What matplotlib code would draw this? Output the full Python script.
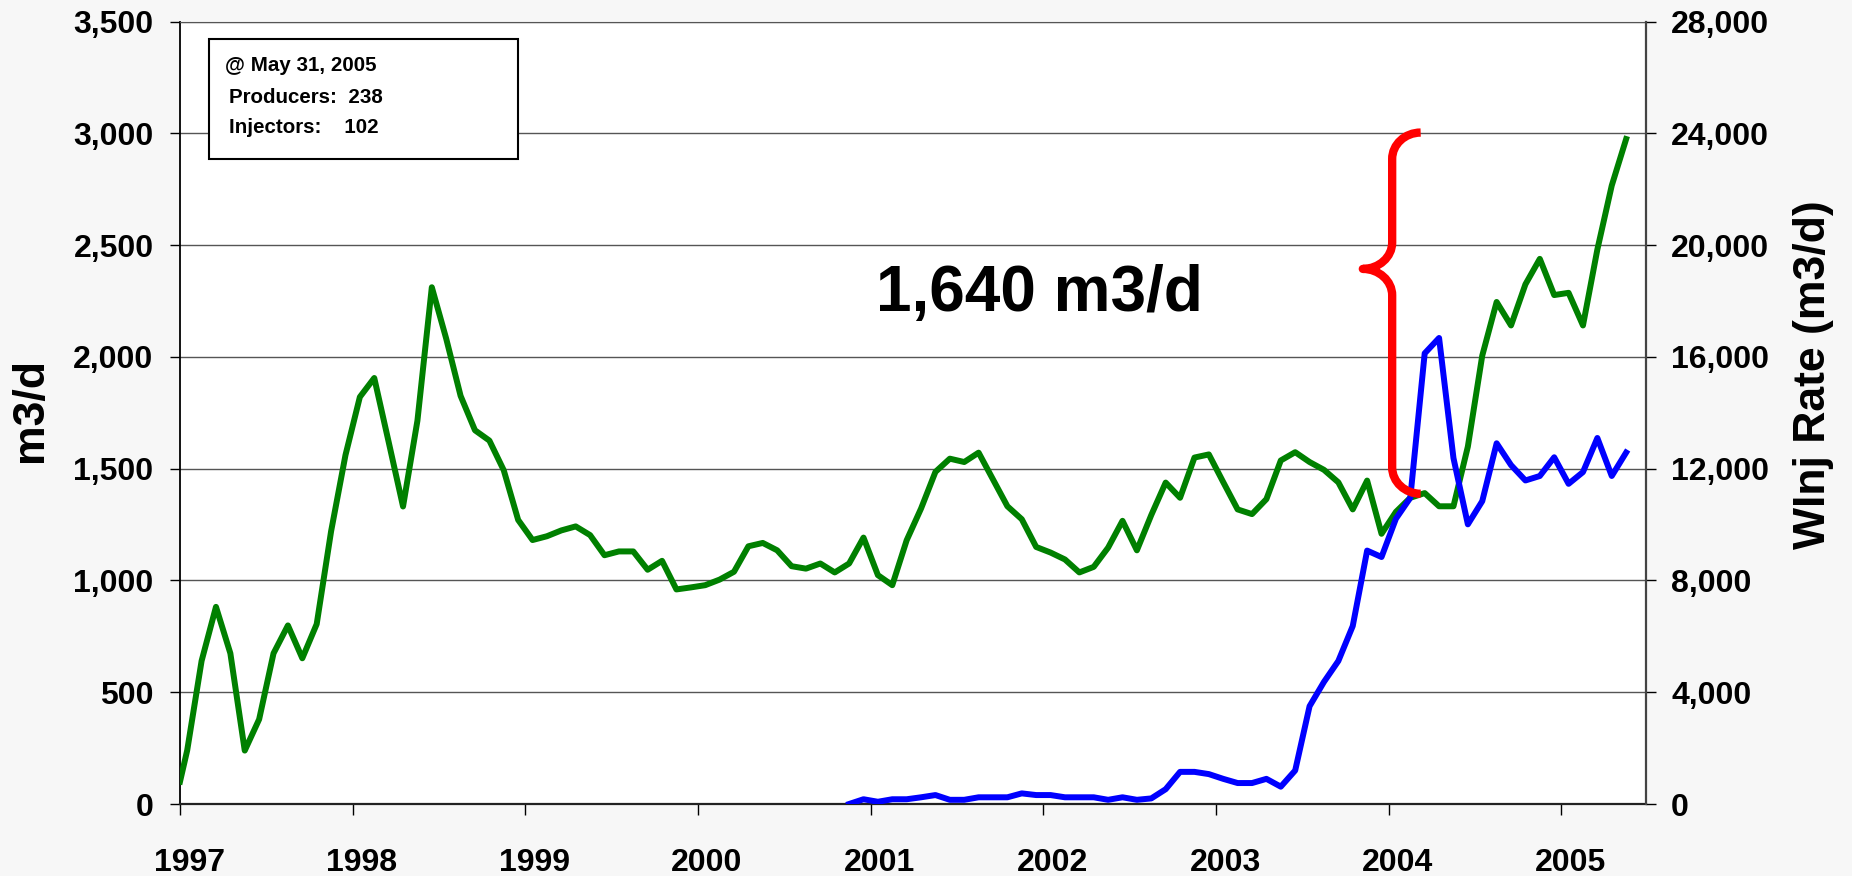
import numpy as np
import matplotlib
matplotlib.use("Agg")
import matplotlib.pyplot as plt
from matplotlib.path import Path
from matplotlib.patches import PathPatch, Rectangle
from matplotlib.ticker import FuncFormatter, FixedLocator
import matplotlib.transforms as mtransforms

plt.rcParams['font.family'] = ['Liberation Sans', 'DejaVu Sans']
plt.rcParams['font.weight'] = 'bold'

# ---------------- data ----------------
start_year = 1997
# oil rate (m3/d, left axis): first value sits at 1 Jan 1997, then monthly (mid-month) Jan 1997 .. May 2005
oil_first = 100
oil_rate = [240, 640, 882, 674, 239, 379, 674, 799, 652, 805, 1220, 1561,
            1821, 1906, 1620, 1331, 1715, 2312, 2082, 1826, 1672, 1626, 1493, 1271,
            1181, 1198, 1224, 1242, 1203, 1113, 1130, 1130, 1048, 1088, 960, 969,
            979, 1004, 1039, 1153, 1168, 1135, 1064, 1053, 1076, 1036, 1076, 1192,
            1024, 979, 1180, 1322, 1486, 1545, 1530, 1572, 1452, 1332, 1274, 1150,
            1125, 1094, 1036, 1061, 1147, 1267, 1135, 1293, 1438, 1370, 1550, 1564,
            1440, 1318, 1297, 1364, 1537, 1574, 1530, 1495, 1439, 1318, 1447, 1209,
            1307, 1370, 1391, 1332, 1332, 1599, 2006, 2246, 2141, 2325, 2439, 2277,
            2287, 2141, 2481, 2767, 2975]
# water injection rate (m3/d, right axis): monthly from Nov 2000 (month index 46) .. May 2005
winj_start_month = 46
winj_rate = [0, 170, 80, 170, 170, 240, 320, 150, 150, 240, 240, 240,
             380, 320, 320, 240, 240, 240, 150, 240, 150, 200, 530, 1150,
             1150, 1070, 900, 750, 750, 900, 620, 1200, 3500, 4370, 5120, 6370,
             9070, 8840, 10210, 10960, 16130, 16680, 12380, 10010, 10840, 12910, 12130, 11580,
             11740, 12410, 11460, 11880, 13100, 11740, 12580]

year_ticks = [1997, 1998, 1999, 2000, 2001, 2002, 2003, 2004, 2005]
left_ticks = [0, 500, 1000, 1500, 2000, 2500, 3000, 3500]
right_ticks = [0, 4000, 8000, 12000, 16000, 20000, 24000, 28000]

box_lines = ["@ May 31, 2005", "Producers:  238", "Injectors:    102"]
gap_label = "1,640 m3/d"
# brace spans from the oil rate around Mar 2004 up to the latest oil rate
brace_low, brace_tip, brace_high = 1388, 2394, 3004

# ---------------- positions ----------------
oil_x = np.concatenate([[start_year], start_year + (np.arange(len(oil_rate)) + 0.5) / 12.0])
oil_y = np.concatenate([[oil_first], oil_rate])
winj_x = start_year + (winj_start_month + np.arange(len(winj_rate)) + 0.5) / 12.0

W, H = 1852, 876
fig = plt.figure(figsize=(W / 100, H / 100), dpi=100, facecolor='#f7f7f7')
ax = fig.add_axes([180 / W, 72 / H, 1466 / W, 782.3 / H])
ax.set_facecolor('white')
ax2 = ax.twinx()
ax2.patch.set_visible(False)

ax.set_xlim(1997, 2005.49)
ax.set_ylim(0, 3500)
ax2.set_ylim(0, 28000)

ax.yaxis.set_major_locator(FixedLocator(left_ticks))
ax2.yaxis.set_major_locator(FixedLocator(right_ticks))
ax.xaxis.set_major_locator(FixedLocator(year_ticks))
ax.set_xticklabels([str(y) for y in year_ticks])
fmt = FuncFormatter(lambda v, p: f"{v:,.0f}")
ax.yaxis.set_major_formatter(fmt)
ax2.yaxis.set_major_formatter(fmt)

ax.grid(axis='y', color='#555555', lw=1.0, zorder=0)
ax.set_axisbelow(True)

ax.plot(oil_x, oil_y, color='#008000', lw=4.3, solid_joinstyle='round', zorder=3)
ax2.plot(winj_x, winj_rate, color='#0000ff', lw=4.3, solid_joinstyle='round', zorder=3)

# spines
for s in ['top']:
    ax.spines[s].set_color('#555555'); ax2.spines[s].set_visible(False)
ax.spines['left'].set_color('black'); ax.spines['left'].set_linewidth(1.3)
ax.spines['bottom'].set_color('#222222'); ax.spines['bottom'].set_linewidth(1.6)
ax2.spines['right'].set_color('#444444'); ax2.spines['right'].set_linewidth(1.6)
ax2.spines['left'].set_visible(False); ax2.spines['bottom'].set_visible(False)
ax.spines['right'].set_visible(False)

ax.tick_params(axis='y', direction='out', length=7, width=1, pad=12, labelsize=23, colors='black')
ax2.tick_params(axis='y', direction='out', length=7, width=1, pad=11, labelsize=23, colors='black')
ax.tick_params(axis='x', direction='out', length=8, width=1, pad=24, labelsize=23, colors='black')
for lab in ax.get_xticklabels():
    lab.set_transform(lab.get_transform() + mtransforms.ScaledTranslation(9 / 100, 0, fig.dpi_scale_trans))
for lab in ax.get_xticklabels() + ax.get_yticklabels() + ax2.get_yticklabels():
    lab.set_fontweight('bold')

# axis titles
fig.text(30 / W, 1 - 410 / H, 'm3/d', rotation=90, ha='center', va='center', fontsize=32, fontweight='bold')
fig.text(1813 / W, 1 - 375 / H, 'WInj Rate (m3/d)', rotation=90, ha='center', va='center',
         fontsize=32, fontweight='bold')

# info box
ax.add_patch(Rectangle((0.0198, 0.8245), 0.2108, 0.1534, transform=ax.transAxes,
                       facecolor='white', edgecolor='black', lw=1.5, zorder=6))
box_y = [0.9374, 0.8961, 0.8578]
box_x = [0.0307, 0.0332, 0.0332]
for t, xx, yy in zip(box_lines, box_x, box_y):
    ax.text(xx, yy, t, transform=ax.transAxes, fontsize=14.8, fontweight='bold', va='baseline',
            ha='left', zorder=7)

# gap label
ax.text(2001.98, 2205, gap_label, ha='center', va='baseline', fontsize=46, fontweight='bold', zorder=6)

# red curly brace
end_x, spine_x, tip_x = 2004.185, 2004.02, 2003.85
r_end, r_tip = 118, 118
k = 0.55
dx = end_x - spine_x
dt = spine_x - tip_x
verts = [
    (end_x, brace_high),
    (end_x - k * dx, brace_high), (spine_x, brace_high - r_end + k * r_end), (spine_x, brace_high - r_end),
    (spine_x, brace_tip + r_tip),
    (spine_x, brace_tip + r_tip - k * r_tip), (tip_x + k * dt, brace_tip), (tip_x, brace_tip),
    (tip_x + k * dt, brace_tip), (spine_x, brace_tip - r_tip + k * r_tip), (spine_x, brace_tip - r_tip),
    (spine_x, brace_low + r_end),
    (spine_x, brace_low + r_end - k * r_end), (end_x - k * dx, brace_low), (end_x, brace_low),
]
codes = [Path.MOVETO,
         Path.CURVE4, Path.CURVE4, Path.CURVE4,
         Path.LINETO,
         Path.CURVE4, Path.CURVE4, Path.CURVE4,
         Path.CURVE4, Path.CURVE4, Path.CURVE4,
         Path.LINETO,
         Path.CURVE4, Path.CURVE4, Path.CURVE4]
brace = PathPatch(Path(verts, codes), transform=ax.transData, facecolor='none',
                  edgecolor='#ff0000', lw=6, capstyle='butt', joinstyle='round', zorder=10)
ax2.add_patch(brace)

fig.savefig('out.png', dpi=100, facecolor=fig.get_facecolor())
